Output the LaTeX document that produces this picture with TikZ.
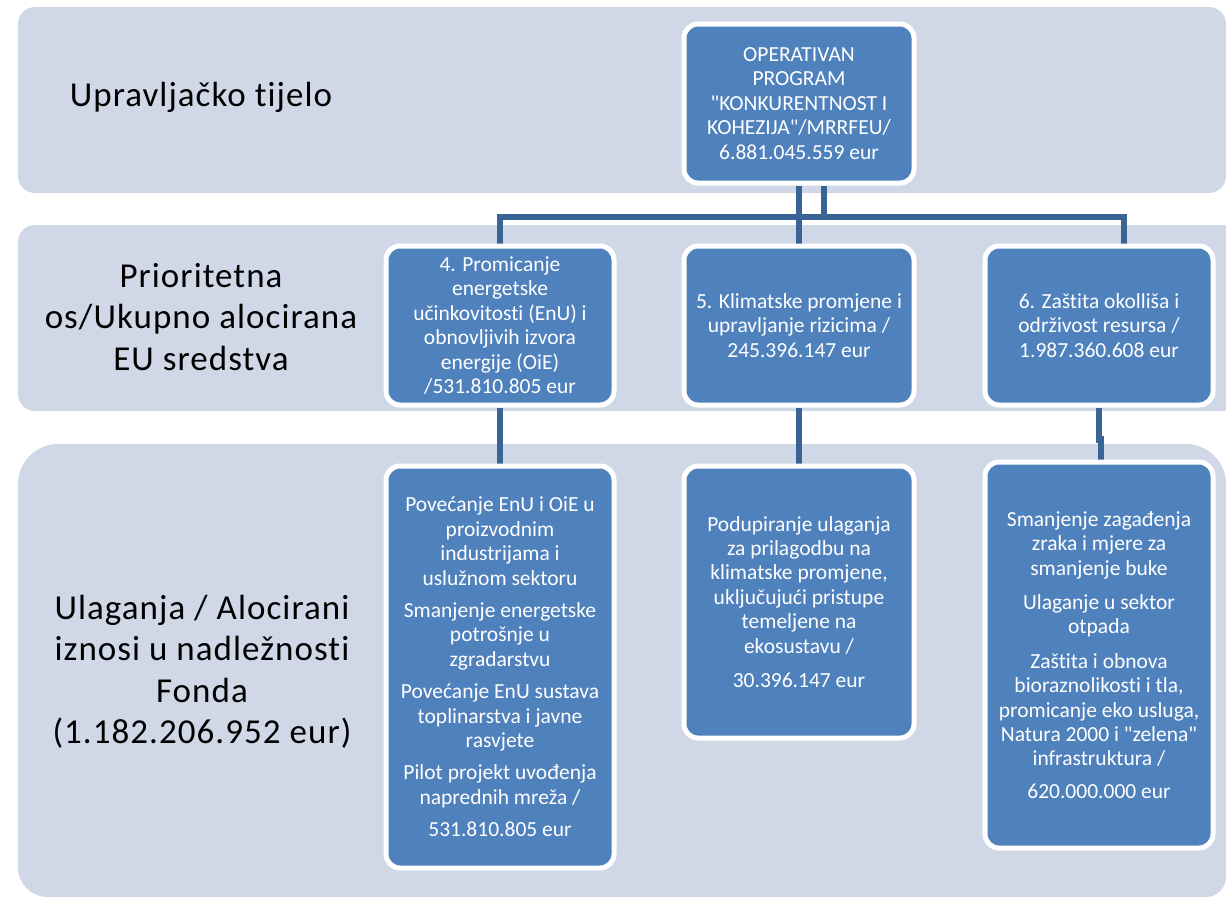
\documentclass[tikz,border=0pt]{standalone}
\usepackage{fontspec}
\setmainfont[Ligatures={TeXOff,CommonOff}]{Carlito}
\newfontfamily\labelfont[LetterSpace=3,Ligatures={TeXOff,CommonOff}]{Carlito}
\definecolor{bandc}{HTML}{D0D8E8}
\definecolor{boxc}{HTML}{4F81BD}
\definecolor{linec}{HTML}{3A6496}
\pgfdeclarelayer{bands}
\pgfdeclarelayer{conns}
\pgfsetlayers{bands,conns,main}
\tikzset{
  bluebox/.style={draw=white, line width=5pt, fill=boxc, rounded corners=14pt,
    text=white, align=center, inner sep=0pt, font=\fontsize{21.5}{24.4}\selectfont},
  sidelabel/.style={align=center, text=black, inner sep=0pt,
    font=\labelfont\fontsize{35}{41.5}\selectfont},
  conn/.style={draw=linec, line width=6.5pt, line cap=butt, line join=miter},
  band/.style={fill=bandc}
}
\begin{document}
\begin{tikzpicture}[x=1pt,y=-1pt]
\useasboundingbox (0,0) rectangle (1226,897);
\begin{pgfonlayer}{bands}
\fill[band, rounded corners=17pt] (18,7) rectangle (1226,193);
\fill[band, rounded corners=17pt] (18,225) rectangle (1250,411);
\fill[band] (18,484) .. controls (18,462) and (36,444) .. (58,444)
  -- (1186,444) .. controls (1208,444) and (1226,462) .. (1226,484)
  -- (1226,877) .. controls (1226,888) and (1217,897) .. (1206,897)
  -- (48,897) .. controls (31,897) and (18,884) .. (18,867) -- cycle;
\end{pgfonlayer}

\node[sidelabel] (l1) at (201,97) {Upravljačko tijelo};
\node[sidelabel] (l2) at (201,317) {Prioritetna\\os/Ukupno alocirana\\EU sredstva};
\node[sidelabel] (l3) at (202,672) {Ulaganja / Alocirani\\iznosi u nadležnosti\\Fonda\\(1.182.206.952 eur)};

\node[bluebox, minimum width=230pt, minimum height=159pt] (T) at (799,103.5)
  {OPERATIVAN\\PROGRAM\\"KONKURENTNOST I\\KOHEZIJA"/MRRFEU/\\6.881.045.559 eur};

\node[bluebox, minimum width=228pt, minimum height=159pt] (p4) at (500,325.5)
  {4. Promicanje\\energetske\\učinkovitosti (EnU) i\\obnovljivih izvora\\energije (OiE)\\/531.810.805 eur};
\node[bluebox, minimum width=230pt, minimum height=159pt] (p5) at (799,325.5)
  {5. Klimatske promjene i\\upravljanje rizicima /\\245.396.147 eur};
\node[bluebox, minimum width=228pt, minimum height=159pt] (p6) at (1099,325.5)
  {6. Zaštita okolliša i\\održivost resursa /\\1.987.360.608 eur};

\node[bluebox, minimum width=228pt, minimum height=402pt] (b4) at (500,667)
  {Povećanje EnU i OiE u\\proizvodnim\\industrijama i\\uslužnom sektoru\\[8pt]
   Smanjenje energetske\\potrošnje u\\zgradarstvu\\[8pt]
   Povećanje EnU sustava\\toplinarstva i javne\\rasvjete\\[8pt]
   Pilot projekt uvođenja\\naprednih mreža /\\[8pt]
   531.810.805 eur};
\node[bluebox, minimum width=230pt, minimum height=272pt] (b5) at (799,602)
  {Podupiranje ulaganja\\za prilagodbu na\\klimatske promjene,\\uključujući pristupe\\temeljene na\\ekosustavu /\\[10pt]
   30.396.147 eur};
\node[bluebox, minimum width=228pt, minimum height=386pt] (b6) at (1099,655)
  {Smanjenje zagađenja\\zraka i mjere za\\smanjenje buke\\[10pt]
   Ulaganje u sektor\\otpada\\[10pt]
   Zaštita i obnova\\bioraznolikosti i tla,\\promicanje eko usluga,\\Natura 2000 i "zelena"\\infrastruktura /\\[8pt]
   620.000.000 eur};

\begin{pgfonlayer}{conns}
\coordinate (h) at (0,217);
\draw[conn] (T.south) -- (p5.north);
\draw[conn] ([xshift=25pt]T.south) -- ([xshift=25pt]T.south |- h);
\draw[conn] (p4.north) -- (p4.north |- h) -- ([xshift=25pt]p6.north |- h) -- ([xshift=25pt]p6.north);
\draw[conn] (p4.south) -- (b4.north);
\draw[conn] (p5.south) -- (b5.north);
\draw[conn] (p6.south) -- ++(0,32) coordinate (j) -- ++(2,0) -- ([xshift=2pt]b6.north);
\end{pgfonlayer}
\end{tikzpicture}
\end{document}
